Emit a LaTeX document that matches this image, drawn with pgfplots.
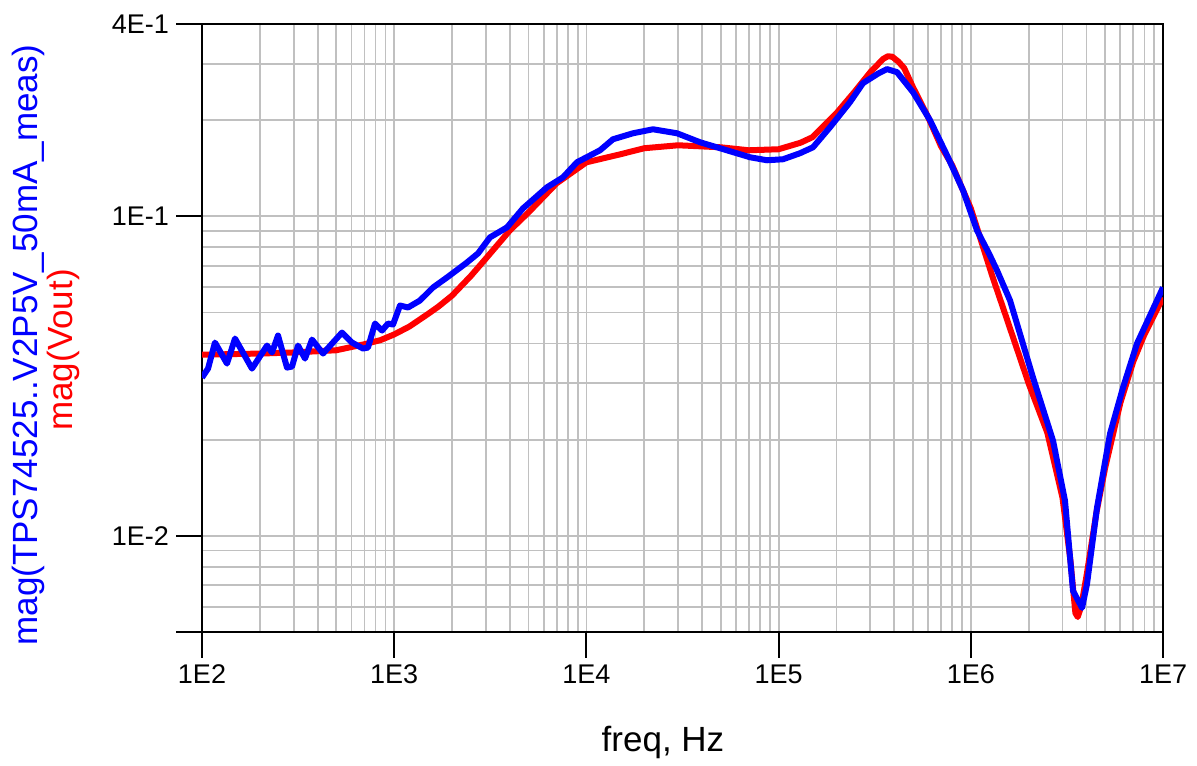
\documentclass[border=0pt]{standalone}
\usepackage{fontspec}
\setmainfont{Liberation Sans}
\usepackage{pgfplots}
\pgfplotsset{compat=1.18}

\definecolor{gridgray}{RGB}{192,192,192}
\definecolor{adsblue}{RGB}{0,0,255}
\definecolor{adsred}{RGB}{255,0,0}

% measured response (blue trace)
\pgfplotstableread{
f v
100 0.03128
107.5 0.03338
116.8 0.04027
134.9 0.03461
148.5 0.04145
182.0 0.03338
217.9 0.03941
231.3 0.03748
248.6 0.04236
276.8 0.03362
294.0 0.03387
315.9 0.03941
343.5 0.03588
373.5 0.04114
426.3 0.03720
535.1 0.04328
603.2 0.04027
688.1 0.03857
730.5 0.03885
794.6 0.04619
864.3 0.04391
928.5 0.04619
985.9 0.04585
1072 0.05260
1180 0.05185
1362 0.05453
1592 0.05989
1882 0.06437
2392 0.07174
2729 0.07656
3150 0.08594
3863 0.09237
4678 0.1059
6237 0.1233
7554 0.1325
8935 0.1477
11770 0.1610
13750 0.1743
17480 0.1820
22210 0.1873
29610 0.1820
38990 0.1706
49570 0.1634
71010 0.1531
87020 0.1498
105400 0.1509
129200 0.1576
151000 0.1645
185100 0.1901
235200 0.2278
274900 0.2612
330000 0.2800
366400 0.2890
413000 0.2827
500500 0.2446
613500 0.1999
751800 0.1553
910900 0.1206
1077000 0.0904
1250000 0.0760
1369000 0.06771
1600000 0.05453
2107000 0.03128
2678000 0.01985
3091000 0.01287
3402000 0.006725
3790000 0.005947
4023000 0.007071
4535000 0.01224
5300000 0.02088
6193000 0.02910
7322000 0.03998
10000000 0.05989
}\meas

% simulated Vout (red trace)
\pgfplotstableread{
f v
100 0.0369
200 0.0372
300 0.0375
500 0.0381
700 0.0398
850 0.0410
1000 0.0427
1200 0.0452
1500 0.0495
1700 0.0522
2000 0.0565
2300 0.0617
2500 0.0650
3000 0.0738
4000 0.0904
5000 0.1029
7000 0.1269
10000 0.1476
15000 0.1564
20000 0.1634
30000 0.1669
50000 0.1645
70000 0.1610
100000 0.1622
130000 0.1700
150000 0.1769
200000 0.2103
250000 0.2465
300000 0.2827
350000 0.3110
370000 0.3170
390000 0.3160
420000 0.3050
450000 0.2911
500000 0.2537
600000 0.2043
700000 0.1657
800000 0.1445
1000000 0.1059
1300000 0.0644
1500000 0.0500
2000000 0.02996
2500000 0.02104
3000000 0.01315
3300000 0.00835
3500000 0.005735
3600000 0.00557
3750000 0.00600
4000000 0.0075
4500000 0.0118
5000000 0.01633
6000000 0.0261
7000000 0.0351
8000000 0.04267
10000000 0.0557
}\vout

\begin{document}
\begin{tikzpicture}
\path (0,0) rectangle (598.5pt,380.5pt);
\begin{axis}[
  at={(101pt,64.5pt)}, anchor=south west,
  scale only axis, width=480.5pt, height=304pt,
  xmode=log, ymode=log,
  xmin=100, xmax=1e7, ymin=0.005, ymax=0.4,
  xtick={100,1000,10000,100000,1000000,10000000},
  xticklabels={1E2,1E3,1E4,1E5,1E6,1E7},
  ytick={0.005,0.01,0.1,0.4},
  yticklabels={,1E-2,1E-1,4E-1},
  minor xtick={200,300,400,500,600,700,800,900,
    2000,3000,4000,5000,6000,7000,8000,9000,
    20000,30000,40000,50000,60000,70000,80000,90000,
    200000,300000,400000,500000,600000,700000,800000,900000,
    2000000,3000000,4000000,5000000,6000000,7000000,8000000,9000000},
  minor ytick={0.006,0.007,0.008,0.009,0.02,0.03,0.04,0.05,0.06,0.07,0.08,0.09,0.2,0.3},
  grid=both,
  major grid style={gridgray, line width=0.9pt},
  minor grid style={gridgray, line width=0.9pt},
  axis line style={black, line width=1pt},
  tick align=outside,
  xtick pos=bottom, ytick pos=left,
  major tick length=13pt, minor tick length=0pt,
  major tick style={black, line width=1pt},
  ticklabel style={font=\fontsize{13.5}{16}\selectfont},
]
\addplot[adsred, line width=3pt, line join=round] table {\vout};
\addplot[adsblue, line width=3pt, line join=round] table {\meas};
\end{axis}
\node[adsblue, rotate=90, font=\fontsize{17.5}{21}\selectfont] at (14pt,208pt) {mag(TPS74525..V2P5V\_50mA\_meas)};
\node[adsred, rotate=90, font=\fontsize{17.5}{21}\selectfont] at (31.5pt,205.5pt) {mag(Vout)};
\node[anchor=base, font=\fontsize{17.5}{21}\selectfont] at (331.5pt,4.5pt) {freq, Hz};
\end{tikzpicture}
\end{document}
